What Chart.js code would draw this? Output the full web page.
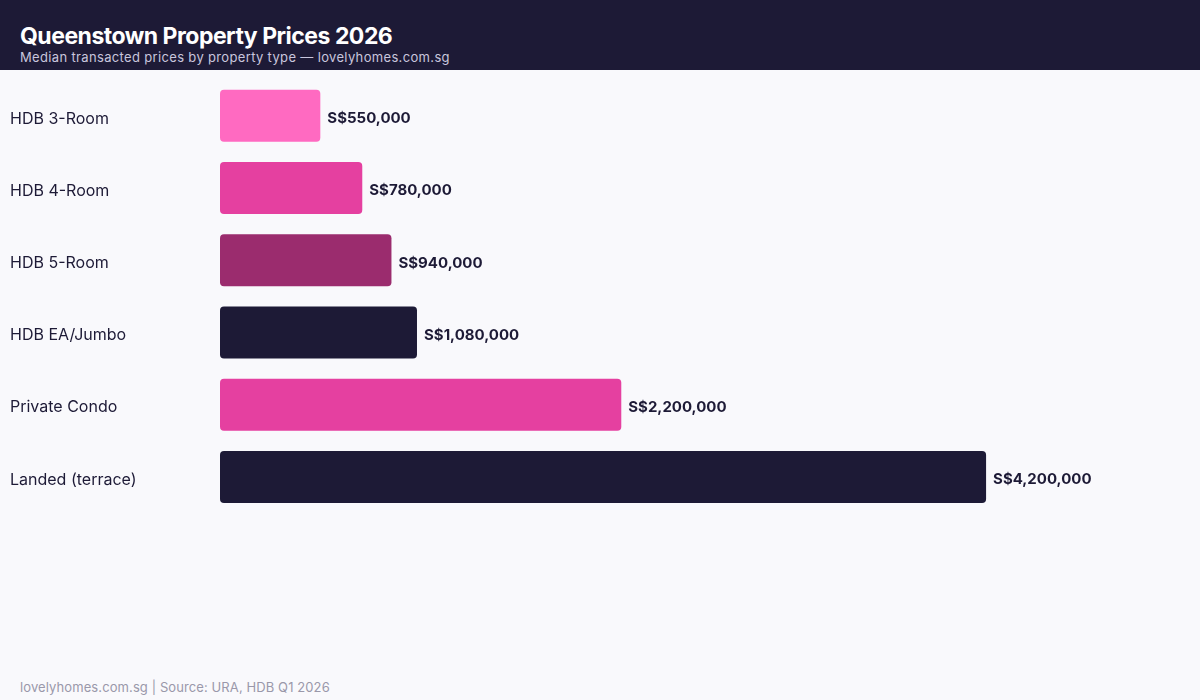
<!DOCTYPE html>
<html lang="en">
<head>
  <meta charset="UTF-8">
  <title>Queenstown Property Prices 2026</title>
  <script src="https://cdn.jsdelivr.net/npm/chart.js"></script>
  <style>
    html, body {
      margin: 0;
      padding: 0;
      width: 1200px;
      height: 700px;
      overflow: hidden;
      background: #f9f9fc;
      font-family: Inter, "Open Sans", sans-serif;
    }
    .header {
      position: absolute;
      left: 0; top: 0;
      width: 1200px;
      height: 70px;
      background: #1d1a36;
    }
    .header h1 {
      position: absolute;
      left: 20px; top: 22px;
      margin: 0;
      font-size: 23px;
      font-weight: 700;
      color: #ffffff;
      letter-spacing: -0.5px;
    }
    .header .sub {
      position: absolute;
      left: 20px; top: 49px;
      font-size: 13px;
      color: #c9c6dd;
      letter-spacing: 0.34px;
    }
    .wrap {
      position: absolute;
      left: 0; top: 70px;
      width: 1200px;
      height: 460px;
    }
    .footer {
      position: absolute;
      left: 20px; top: 679px;
      font-size: 13px;
      color: #9a98aa;
      letter-spacing: 0.1px;
    }
  </style>
</head>
<body>
  <div class="header">
    <h1>Queenstown Property Prices 2026</h1>
    <div class="sub">Median transacted prices by property type — lovelyhomes.com.sg</div>
  </div>
  <div class="wrap"><canvas id="priceChart"></canvas></div>
  <div class="footer">lovelyhomes.com.sg | Source: URA, HDB Q1 2026</div>

  <script>
    const categories = ['HDB 3-Room', 'HDB 4-Room', 'HDB 5-Room', 'HDB EA/Jumbo', 'Private Condo', 'Landed (terrace)'];
    const prices = [550000, 780000, 940000, 1080000, 2200000, 4200000];
    const barColors = ['#ff6ac1', '#e540a0', '#9b2c6e', '#1d1a36', '#e540a0', '#1d1a36'];

    const fmt = v => 'S$' + v.toLocaleString('en-US');

    const valueLabels = {
      id: 'valueLabels',
      afterDatasetsDraw(chart) {
        const ctx = chart.ctx;
        const meta = chart.getDatasetMeta(0);
        ctx.save();
        ctx.font = '700 15px Inter, sans-serif';
        ctx.fillStyle = '#1d1a36';
        ctx.textAlign = 'left';
        ctx.textBaseline = 'middle';
        meta.data.forEach((bar, i) => {
          ctx.fillText(fmt(prices[i]), bar.x + 7, bar.y + 3);
        });
        ctx.restore();
      }
    };

    new Chart(document.getElementById('priceChart'), {
      type: 'bar',
      data: {
        labels: categories,
        datasets: [{
          data: prices,
          backgroundColor: barColors,
          borderRadius: 4,
          borderSkipped: false,
          barPercentage: 0.8,
          categoryPercentage: 0.9
        }]
      },
      options: {
        indexAxis: 'y',
        responsive: true,
        maintainAspectRatio: false,
        animation: false,
        layout: { padding: { left: 10, right: 68, top: 8, bottom: 17 } },
        plugins: {
          legend: { display: false },
          tooltip: { enabled: false }
        },
        scales: {
          x: {
            min: 0,
            max: 5000000,
            display: false,
            grid: { display: false }
          },
          y: {
            afterFit(scale) { scale.width = 210; },
            grid: { display: false },
            border: { display: false },
            ticks: {
              crossAlign: 'far',
              color: '#1d1a36',
              padding: 0,
              labelOffset: 3,
              font: { family: 'Inter, sans-serif', size: 16 }
            }
          }
        }
      },
      plugins: [valueLabels]
    });
  </script>
</body>
</html>
